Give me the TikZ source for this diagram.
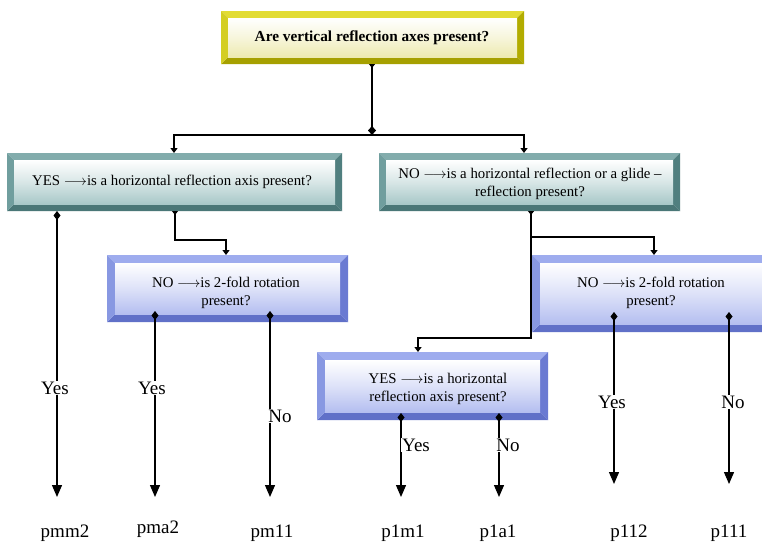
\documentclass[tikz,border=0pt]{standalone}
\usepackage{fontspec}
\setmainfont{Liberation Serif}
\usetikzlibrary{arrows.meta,calc}
\pgfdeclarelayer{bg}\pgfsetlayers{bg,main}
\definecolor{yelT}{HTML}{E2DC34}\definecolor{yelL}{HTML}{D4CE22}\definecolor{yelR}{HTML}{B2AC00}\definecolor{yelB}{HTML}{A6A000}\definecolor{yelI}{HTML}{EDEAB0}
\definecolor{tealT}{HTML}{82ACAC}\definecolor{tealL}{HTML}{709E9E}\definecolor{tealR}{HTML}{507F7F}\definecolor{tealB}{HTML}{4A7777}\definecolor{tealI}{HTML}{A8C8C8}
\definecolor{bluT}{HTML}{9EACEE}\definecolor{bluL}{HTML}{8898E2}\definecolor{bluR}{HTML}{6A7AD2}\definecolor{bluB}{HTML}{6070C8}\definecolor{bluI}{HTML}{B4BEF0}
\newcommand\bevel[3]{%
\begin{pgfonlayer}{bg}
\fill[#2T] (#1.north west) -- (#1.north east) -- ([shift={(-#3,#3)}]#1.north east) -- ([shift={(#3,#3)}]#1.north west) -- cycle;
\fill[#2R] (#1.north east) -- (#1.south east) -- ([shift={(-#3,-#3)}]#1.south east) -- ([shift={(-#3,#3)}]#1.north east) -- cycle;
\fill[#2B] (#1.south east) -- (#1.south west) -- ([shift={(#3,-#3)}]#1.south west) -- ([shift={(-#3,-#3)}]#1.south east) -- cycle;
\fill[#2L] (#1.south west) -- (#1.north west) -- ([shift={(#3,#3)}]#1.north west) -- ([shift={(#3,-#3)}]#1.south west) -- cycle;
\shade[top color=white, bottom color=#2I, middle color=white!55!#2I] ([shift={(#3,#3)}]#1.north west) rectangle ([shift={(-#3,-#3)}]#1.south east);
\end{pgfonlayer}}
\tikzset{
  boxnode/.style={inner sep=0pt, outer sep=0pt},
  boxtext/.style={align=center, font=\fontsize{14.8}{18}\selectfont, inner sep=0pt},
  conn/.style={line width=1.3pt, draw=black},
  smalltip/.style={-{Triangle[width=7pt,length=5pt]}},
  bigtip/.style={{Diamond[width=7pt,length=9pt]}-{Triangle[width=10pt,length=12pt]}},
  yn/.style={fill=white, inner sep=1pt, font=\fontsize{19}{22}\selectfont},
  res/.style={inner sep=0pt, font=\fontsize{19}{22}\selectfont},
}
\begin{document}
\begin{tikzpicture}[x=1pt,y=-1pt]
\clip (0,0) rectangle (762,541);
\begin{pgfonlayer}{bg}\fill[white] (0,0) rectangle (762,541);\end{pgfonlayer}
% boxes
\node[boxnode, minimum width=303pt, minimum height=53pt] (top) at (372.5,37.5) {};
\bevel{top}{yel}{7}
\node[inner sep=0pt, font=\bfseries\fontsize{15.3}{18}\selectfont] (toptext) at (372,38) {Are vertical reflection axes present?};
\node[boxnode, minimum width=335pt, minimum height=58pt] (L) at (174.5,182) {};
\bevel{L}{teal}{7}
\node[boxtext] (Ltext) at (172,182) {YES $\longrightarrow$is a horizontal reflection axis present?};
\node[boxnode, minimum width=301pt, minimum height=58pt] (R) at (529.5,182) {};
\bevel{R}{teal}{7}
\node[boxtext] (Rtext) at (530,184) {NO $\longrightarrow$is a horizontal reflection or a glide --\\reflection present?};
\node[boxnode, minimum width=241pt, minimum height=67pt] (LL) at (227.5,288.5) {};
\bevel{LL}{blu}{8}
\node[boxtext] (LLtext) at (226,293) {NO $\longrightarrow$is 2-fold rotation\\present?};
\node[boxnode, minimum width=238pt, minimum height=77pt] (RR) at (651,293.5) {};
\bevel{RR}{blu}{8}
\node[boxtext] (RRtext) at (651,293) {NO $\longrightarrow$is 2-fold rotation\\present?};
\node[boxnode, minimum width=231pt, minimum height=68pt] (M) at (432.5,386) {};
\bevel{M}{blu}{8}
\node[boxtext] (Mtext) at (438,389) {YES $\longrightarrow$is a horizontal\\reflection axis present?};
% junction coordinates
\coordinate (J) at (372,135);
\coordinate (Lin) at (174,153);
\coordinate (Rin) at (524,153);
\coordinate (Lout) at (175,211);
\coordinate (Lk) at (175,240);
\coordinate (LLin) at (226,255);
\coordinate (Rout) at (531,211);
\coordinate (Rk) at (531,237);
\coordinate (Rk2) at (531,338);
\coordinate (RRin) at (654,255);
\coordinate (Min) at (418,352);
% top connectors
\draw[conn, {Triangle[reversed,width=6pt,length=4pt]}-{Diamond[width=8pt,length=9pt]}] (top.south -| J) -- (J);
\draw[conn, smalltip] (J) -| (Lin);
\draw[conn, smalltip] (J) -| (Rin);
\draw[conn, {Triangle[reversed,width=6pt,length=4pt]}-{Triangle[width=7pt,length=5pt]}] (Lout) -- (Lk) -| (LLin);
\draw[conn, {Triangle[reversed,width=6pt,length=4pt]}-] (Rout) -- (Rk);
\draw[conn, smalltip] (Rk) -| (RRin);
\draw[conn, smalltip] (Rk) -- (Rk2) -| (Min);
% outcome connectors
\coordinate (s1) at (57,211);  \coordinate (e1) at (57,497);
\coordinate (s2) at (155,311); \coordinate (e2) at (155,497);
\coordinate (s3) at (270,311); \coordinate (e3) at (270,497);
\coordinate (s4) at (401,413); \coordinate (e4) at (401,497);
\coordinate (s5) at (499,413); \coordinate (e5) at (499,497);
\coordinate (s6) at (614,312); \coordinate (e6) at (614,484);
\coordinate (s7) at (729,312); \coordinate (e7) at (729,484);
\foreach \i in {1,...,7}{\draw[conn, bigtip] (s\i) -- (e\i);}
\node[yn] (y1) at (55,388) {Yes};
\node[yn] (y2) at (152,388) {Yes};
\node[yn] (n3) at (280,416) {No};
\node[yn] (y4) at (416,445) {Yes};
\node[yn] (n5) at (508,445) {No};
\node[yn] (y6) at (612,402) {Yes};
\node[yn] (n7) at (733,402) {No};
\node[res, anchor=base] (r1) at (65,537) {pmm2};
\node[res, anchor=base] (r2) at (158,533) {pma2};
\node[res, anchor=base] (r3) at (272,537) {pm11};
\node[res, anchor=base] (r4) at (403,537) {p1m1};
\node[res, anchor=base] (r5) at (498,537) {p1a1};
\node[res, anchor=base] (r6) at (629,537) {p112};
\node[res, anchor=base] (r7) at (729,537) {p111};
\end{tikzpicture}
\end{document}
